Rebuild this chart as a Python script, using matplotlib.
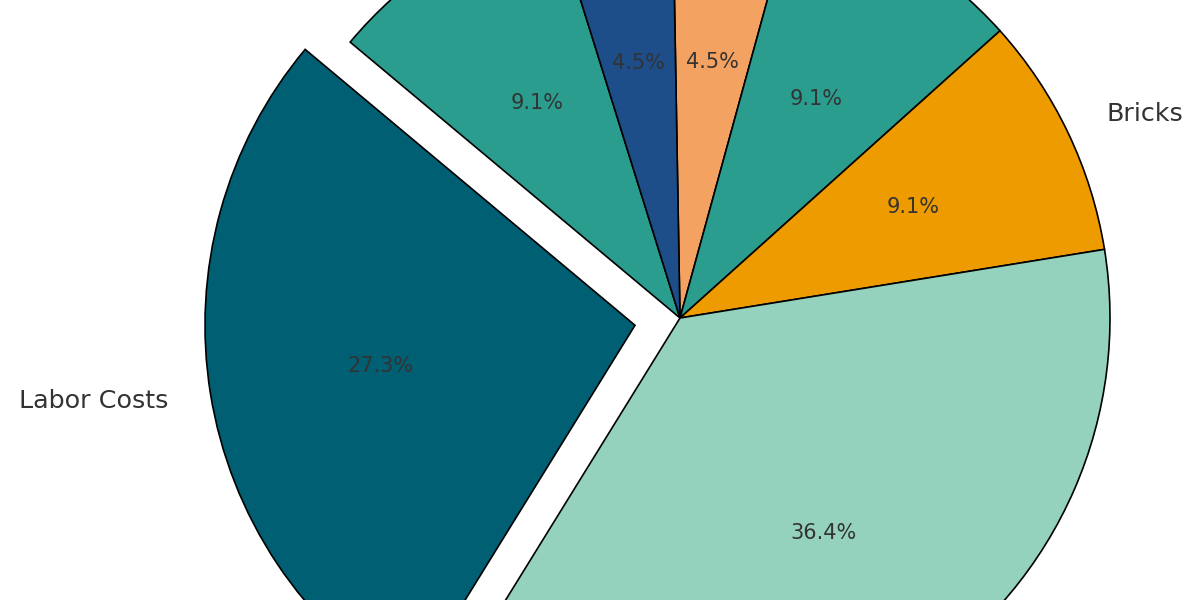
import matplotlib
matplotlib.use("Agg")
import matplotlib.pyplot as plt

labels = ["", "", "Bricks", "", "Labor Costs", "", ""]
values = [1, 2, 2, 8, 6, 2, 1]
colors = ["#F4A261", "#2A9D8F", "#EE9B00", "#94D2BD", "#005F73", "#2A9D8F", "#1D4E89"]
explode = [0, 0, 0, 0, 0.106, 0, 0]

fig = plt.figure(figsize=(12, 6), dpi=100)
ax = fig.add_axes([0, 0, 1, 1])
wedges, texts, autotexts = ax.pie(
    values, labels=labels, colors=colors, explode=explode,
    autopct="%1.1f%%", startangle=91, counterclock=False,
    pctdistance=0.6, labeldistance=1.1,
    wedgeprops=dict(edgecolor="black", linewidth=1.2),
    textprops=dict(fontsize=15, color="#333333"),
)
for t in texts:
    t.set_fontsize(18.3)
ax.set_aspect("auto")
ax.set_xlim(-680 / 430, 520 / 430)
ax.set_ylim(-282 / 430, 318 / 430)
ax.axis("off")
fig.savefig("out.png", dpi=100)
